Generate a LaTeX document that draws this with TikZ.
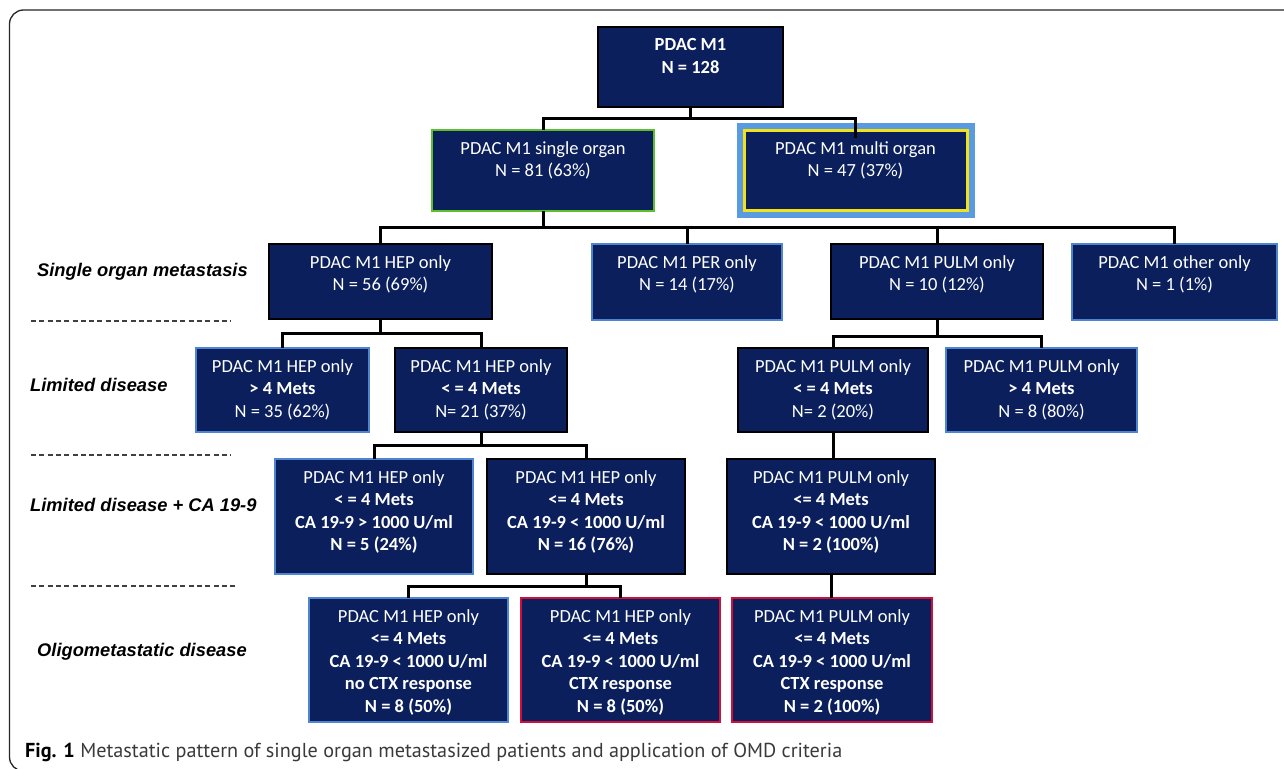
\documentclass[tikz,border=0pt]{standalone}
\usepackage{fontspec}
\setmainfont{Carlito}
\newfontfamily\labfont{Liberation Sans}
\newfontfamily\capfont{PT Sans}
\definecolor{boxnavy}{HTML}{0A1F5C}
\definecolor{boxblue}{HTML}{4F84D0}
\definecolor{multiblue}{HTML}{5A9AE0}
\definecolor{boxgreen}{HTML}{5CBF2C}
\definecolor{boxyellow}{HTML}{F2E21A}
\definecolor{boxred}{HTML}{D0103A}
\definecolor{capgray}{HTML}{3A3A3A}
\tikzset{
  bx/.style={draw=black, fill=boxnavy, line width=2.6pt, inner sep=0pt, outer sep=0pt, text=white,
             font=\fontsize{18.5}{22.6}\selectfont, anchor=north},
  bxblue/.style={bx, draw=boxblue},
  bxgreen/.style={bx, draw=boxgreen},
  bxred/.style={bx, draw=boxred},
  bxyellow/.style={bx, draw=boxyellow, line width=3pt},
  conn/.style={draw=black, line width=3pt},
  lab/.style={font=\labfont\bfseries\itshape\fontsize{18.3}{22}\selectfont, anchor=west, inner sep=0pt},
  sep/.style={draw=black!75, line width=1.2pt, dash pattern=on 5pt off 3.3pt},
}
% #1 name, #2 style, #3 x1, #4 y1, #5 x2, #6 y2, #7 text
\newcommand\mkbox[7]{%
  \node[#2] (#1) at ({(#3+#5)/2},#4)
    {\parbox[c][\dimexpr #6pt-#4pt\relax][t]{\dimexpr #5pt-#3pt\relax}{\centering\rule{0pt}{24pt}#7\par}};%
}
\begin{document}
\begin{tikzpicture}[x=1pt,y=-1pt]
\useasboundingbox (0,0) rectangle (1284,768);
\clip (0,0) rectangle (1284,768);
\fill[white] (0,0) rectangle (1284,768);
% outer frame
\draw[line width=1.3pt, black!85, rounded corners=14pt] (1300,10) -- (9.5,10) -- (9.5,771) -- (120,771);

% level 1-2
\mkbox{root}{bx}{598}{27}{783}{107}{\textbf{PDAC M1}\\\textbf{N = 128}}
\mkbox{single}{bxgreen}{432}{130}{654}{211}{PDAC M1 single organ\\N = 81 (63\%)}
\mkbox{multi}{bxyellow}{744}{130}{967}{210}{PDAC M1 multi organ\\N = 47 (37\%)}
\draw[multiblue, line width=6pt] ([shift={(-4.5,-4.5)}]multi.north west) rectangle ([shift={(4.5,4.5)}]multi.south east);

% level 3
\mkbox{hep}{bx}{269}{244}{492}{319}{PDAC M1 HEP only\\N = 56 (69\%)}
\mkbox{per}{bxblue}{592}{244}{782}{320}{PDAC M1 PER only\\N = 14 (17\%)}
\mkbox{pulm}{bx}{831}{244}{1043}{319}{PDAC M1 PULM only\\N = 10 (12\%)}
\mkbox{other}{bxblue}{1072}{244}{1277}{320}{PDAC M1 other only\\N = 1 (1\%)}

% level 4
\mkbox{hepgt}{bxblue}{196}{348}{369}{432}{PDAC M1 HEP only\\\textbf{> 4 Mets}\\N = 35 (62\%)}
\mkbox{heple}{bx}{395}{348}{567}{432}{PDAC M1 HEP only\\\textbf{< = 4 Mets}\\N= 21 (37\%)}
\mkbox{pulmle}{bx}{738}{348}{928}{432}{PDAC M1 PULM only\\\textbf{< = 4 Mets}\\N= 2 (20\%)}
\mkbox{pulmgt}{bxblue}{946}{348}{1137}{432}{PDAC M1 PULM only\\\textbf{> 4 Mets}\\N = 8 (80\%)}

% level 5
\mkbox{hepcahi}{bxblue}{275}{459}{473}{574}{PDAC M1 HEP only\\\textbf{< = 4 Mets}\\\textbf{CA 19-9 > 1000 U/ml}\\\textbf{N = 5 (24\%)}}
\mkbox{hepcalo}{bx}{487}{459}{685}{574}{PDAC M1 HEP only\\\textbf{<= 4 Mets}\\\textbf{CA 19-9 < 1000 U/ml}\\\textbf{N = 16 (76\%)}}
\mkbox{pulmca}{bx}{727}{459}{935}{574}{PDAC M1 PULM only\\\textbf{<= 4 Mets}\\\textbf{CA 19-9 < 1000 U/ml}\\\textbf{N = 2 (100\%)}}

% level 6
\mkbox{hepno}{bxblue}{309}{598}{508}{722}{PDAC M1 HEP only\\\textbf{<= 4 Mets}\\\textbf{CA 19-9 < 1000 U/ml}\\\textbf{no CTX response}\\\textbf{N = 8 (50\%)}}
\mkbox{hepctx}{bxred}{521}{598}{720}{722}{PDAC M1 HEP only\\\textbf{<= 4 Mets}\\\textbf{CA 19-9 < 1000 U/ml}\\\textbf{CTX response}\\\textbf{N = 8 (50\%)}}
\mkbox{pulmctx}{bxred}{732}{598}{932}{722}{PDAC M1 PULM only\\\textbf{<= 4 Mets}\\\textbf{CA 19-9 < 1000 U/ml}\\\textbf{CTX response}\\\textbf{N = 2 (100\%)}}

% connectors
\draw[conn] (root.south) -- ++(0,11) -| (single.north);
\draw[conn] (root.south) -- ++(0,11) -| ([yshift=-7.5pt]multi.north);
\foreach \c in {hep,per,pulm,other}
  \draw[conn] (single.south) -- ++(0,16) -| (\c.north);
\foreach \c in {hepgt,heple}
  \draw[conn] (hep.south) -- ++(0,14) -| (\c.north);
\foreach \c in {pulmle,pulmgt}
  \draw[conn] (pulm.south) -- ++(0,17) -| (\c.north);
\foreach \c in {hepcahi,hepcalo}
  \draw[conn] (heple.south) -- ++(0,13) -| (\c.north);
\draw[conn] (pulmle.south) -- (pulmle.south |- pulmca.north);
\foreach \c in {hepno,hepctx}
  \draw[conn] (hepcalo.south) -- ++(0,12) -| (\c.north);
\draw[conn] (pulmca.south) -- (pulmca.south |- pulmctx.north);

% level labels and separators
\node[lab] (l1) at (37,272) {Single organ metastasis};
\coordinate (s1a) at (31,321); \coordinate (s1b) at (231,321);
\draw[sep] (s1a) -- (s1b);
\node[lab] (l2) at (30,385) {Limited disease};
\coordinate (s2a) at (31,455); \coordinate (s2b) at (231,455);
\draw[sep] (s2a) -- (s2b);
\node[lab] (l3) at (30,505) {Limited disease + CA 19-9};
\coordinate (s3a) at (31,586); \coordinate (s3b) at (236,586);
\draw[sep] (s3a) -- (s3b);
\node[lab] (l4) at (37,652) {Oligometastatic disease};

% caption
\node[anchor=base west, inner sep=0pt, font=\capfont\fontsize{20.2}{24}\selectfont, text=capgray] (cap) at (25,757)
  {\textcolor{black}{\textbf{Fig. 1}} Metastatic pattern of single organ metastasized patients and application of OMD criteria};
\end{tikzpicture}
\end{document}
